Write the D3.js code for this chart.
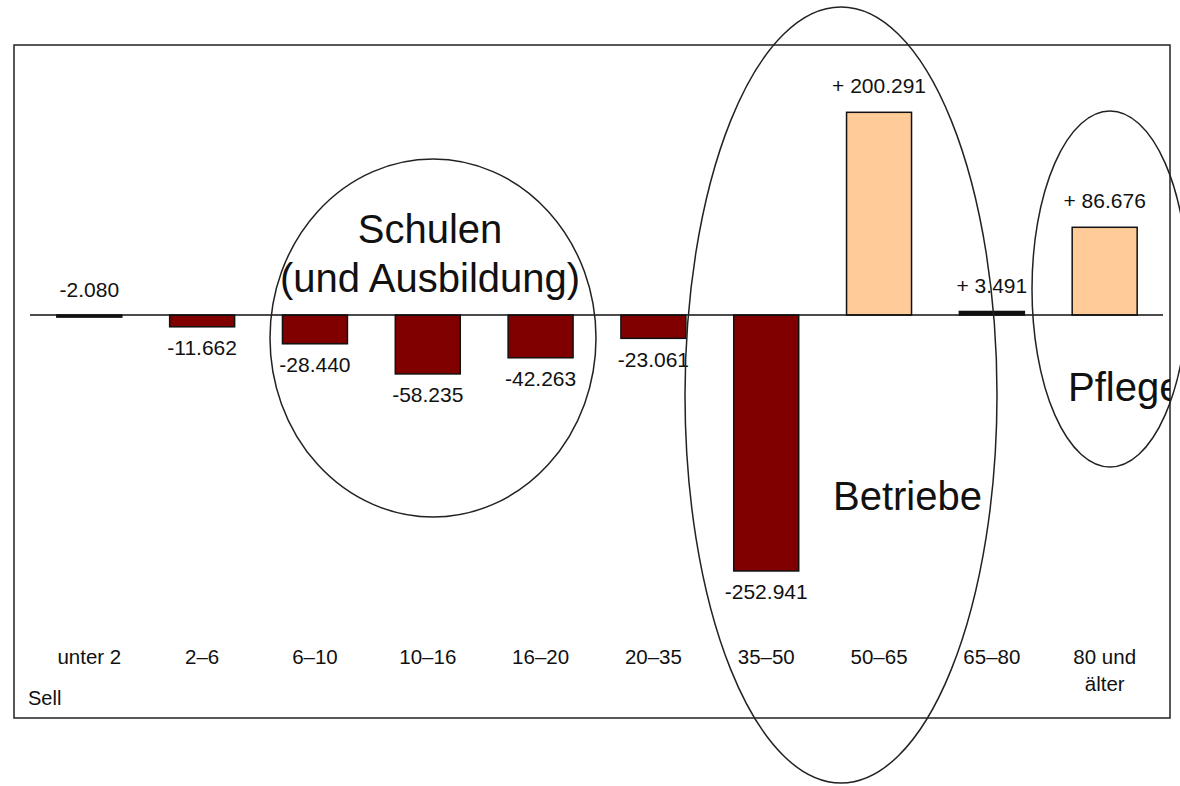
<!DOCTYPE html>
<html>
<head>
<meta charset="utf-8">
<script src="https://cdn.jsdelivr.net/npm/d3@7"></script>
<style>
  body { margin: 0; background: #fff; }
  svg { display: block; font-family: "Liberation Sans", Arial, sans-serif; }
</style>
</head>
<body>
<div id="chart"></div>
<script>
// age groups (Jahre)
const categories = ["unter 2", "2–6", "6–10", "10–16", "16–20", "20–35", "35–50", "50–65", "65–80", "80 und älter"];
// change in persons
const changes = [-2.080, -11.662, -28.440, -58.235, -42.263, -23.061, -252.941, 200.291, 3.491, 86.676];
const valueLabels = ["-2.080", "-11.662", "-28.440", "-58.235", "-42.263", "-23.061", "-252.941", "+ 200.291", "+ 3.491", "+ 86.676"];
// tick labels, one entry per line
const tickLines = [["unter 2"], ["2–6"], ["6–10"], ["10–16"], ["16–20"], ["20–35"], ["35–50"], ["50–65"], ["65–80"], ["80 und", "älter"]];

const width = 1180, height = 786;
const frame = { left: 14, top: 45, right: 1170, bottom: 718 };

const svg = d3.select("#chart")
  .append("svg")
  .attr("width", width)
  .attr("height", height);

svg.append("defs").append("clipPath")
  .attr("id", "frameClip")
  .append("rect")
  .attr("x", frame.left)
  .attr("y", frame.top)
  .attr("width", frame.right - frame.left)
  .attr("height", frame.bottom - frame.top);

// outer frame
svg.append("rect")
  .attr("x", frame.left)
  .attr("y", frame.top)
  .attr("width", frame.right - frame.left)
  .attr("height", frame.bottom - frame.top)
  .attr("fill", "none")
  .attr("stroke", "#222")
  .attr("stroke-width", 1.5);

const x = d3.scaleBand()
  .domain(categories)
  .range([9, 1185])
  .padding(0.424);

const y = d3.scaleLinear()
  .domain([-300, 250])
  .range([618.6, 62]);

// bars (very short ones come out as a solid black rule, like the original)
svg.selectAll(".bar")
  .data(changes)
  .enter()
  .append("rect")
  .attr("class", "bar")
  .attr("x", (d, i) => x(categories[i]))
  .attr("width", x.bandwidth())
  .attr("y", d => y(Math.max(0, d)))
  .attr("height", d => Math.abs(y(d) - y(0)))
  .attr("fill", d => Math.abs(y(d) - y(0)) < 5 ? "#111" : (d < 0 ? "#800000" : "#ffcc99"))
  .attr("stroke", "#111")
  .attr("stroke-width", 1.5);

// zero line
svg.append("line")
  .attr("x1", 30)
  .attr("x2", 1163)
  .attr("y1", y(0))
  .attr("y2", y(0))
  .attr("stroke", "#111")
  .attr("stroke-width", 1.5);

// value labels: above for gains and tiny values, below for losses
svg.selectAll(".val")
  .data(changes)
  .enter()
  .append("text")
  .attr("class", "val")
  .attr("x", (d, i) => x(categories[i]) + x.bandwidth() / 2)
  .attr("y", d => {
    if (Math.abs(d) < 5) return y(Math.max(0, d)) - 18;
    return d > 0 ? y(d) - 19 : y(d) + 28.5;
  })
  .attr("text-anchor", "middle")
  .attr("font-size", 21)
  .attr("fill", "#111")
  .text((d, i) => valueLabels[i]);

// category axis
const axis = svg.append("g")
  .attr("transform", "translate(0,664)")
  .call(d3.axisBottom(x).tickSize(0).tickPadding(0));
axis.select(".domain").remove();
axis.selectAll(".tick text")
  .attr("font-size", 20.5)
  .attr("fill", "#111")
  .attr("y", 0)
  .attr("dy", 0)
  .text(null)
  .each(function(d, i) {
    const t = d3.select(this);
    tickLines[i].forEach((line, k) => {
      t.append("tspan")
        .attr("x", 0)
        .attr("dy", k === 0 ? 0 : 27)
        .text(line);
    });
  });

svg.append("text")
  .attr("x", 28)
  .attr("y", 705)
  .attr("font-size", 20)
  .attr("fill", "#111")
  .text("Sell");

// annotation ellipses
const ellipses = [
  { cx: 433, cy: 338, rx: 163, ry: 179 },
  { cx: 841, cy: 395, rx: 156, ry: 388 },
  { cx: 1110, cy: 289, rx: 78, ry: 178 }
];
svg.selectAll(".ring")
  .data(ellipses)
  .enter()
  .append("ellipse")
  .attr("class", "ring")
  .attr("cx", d => d.cx)
  .attr("cy", d => d.cy)
  .attr("rx", d => d.rx)
  .attr("ry", d => d.ry)
  .attr("fill", "none")
  .attr("stroke", "#222")
  .attr("stroke-width", 1.5);

const notes = [
  { text: "Schulen", x: 430, y: 243, anchor: "middle" },
  { text: "(und Ausbildung)", x: 430, y: 292, anchor: "middle" },
  { text: "Betriebe", x: 833, y: 510, anchor: "start" },
  { text: "Pflege", x: 1068, y: 401, anchor: "start" }
];
svg.append("g")
  .attr("clip-path", "url(#frameClip)")
  .selectAll("text")
  .data(notes)
  .enter()
  .append("text")
  .attr("x", d => d.x)
  .attr("y", d => d.y)
  .attr("text-anchor", d => d.anchor)
  .attr("font-size", 40)
  .attr("fill", "#111")
  .text(d => d.text);
</script>
</body>
</html>
